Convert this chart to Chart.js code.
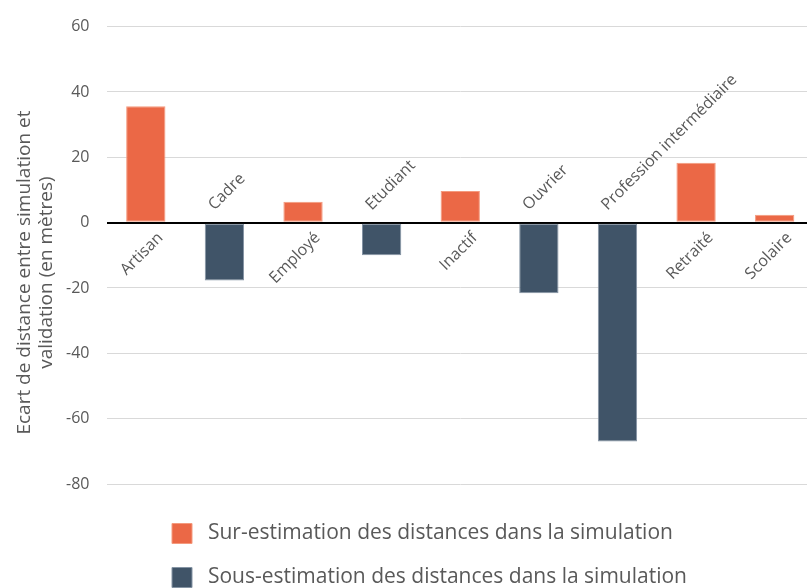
<!DOCTYPE html>
<html>
<head>
<meta charset="utf-8">
<script src="https://cdn.jsdelivr.net/npm/chart.js@4.4.1/dist/chart.umd.min.js"></script>
<style>
  html, body { margin: 0; padding: 0; background: #fff; overflow: hidden; }
  #wrap { width: 816px; height: 598px; }
</style>
</head>
<body>
<div id="wrap"><canvas id="chart"></canvas></div>
<script>
// categories
const categories = ["Artisan", "Cadre", "Employé", "Etudiant", "Inactif", "Ouvrier",
  "Profession intermédiaire", "Retraité", "Scolaire"];
// over-estimation (positive) and under-estimation (negative) in metres
const surEstimation = [35.6, null, 6.4, null, 9.7, null, null, 18.3, 2.4];
const sousEstimation = [null, -17.7, null, -10, null, -21.6, -67, null, null];
const seriesNames = ["Sur-estimation des distances dans la simulation",
  "Sous-estimation des distances dans la simulation"];
const yTitle = ["Ecart de distance entre simulation et", "validation (en mètres)"];

const textColor = "#595959";
const fontFamily = "'Open Sans', sans-serif";

// category labels drawn on the zero line, on the opposite side of the bar
const zeroLabels = {
  id: "zeroLabels",
  afterDatasetsDraw(chart) {
    const ctx = chart.ctx;
    const xs = chart.scales.x;
    const ys = chart.scales.y;
    const y0 = ys.getPixelForValue(0);
    ctx.save();
    ctx.fillStyle = textColor;
    ctx.font = "16px " + fontFamily;
    categories.forEach((label, i) => {
      const x = xs.getPixelForValue(i);
      const v = surEstimation[i] != null ? surEstimation[i] : sousEstimation[i];
      ctx.save();
      if (v >= 0) {
        ctx.translate(x + 9, y0 + 7);
        ctx.rotate(-Math.PI / 4);
        ctx.textAlign = "right";
        ctx.textBaseline = "top";
      } else {
        ctx.translate(x - 10, y0 - 12);
        ctx.rotate(-Math.PI / 4);
        ctx.textAlign = "left";
        ctx.textBaseline = "alphabetic";
      }
      ctx.fillText(label, 0, 0);
      ctx.restore();
    });
    ctx.restore();
  },
};

// legend rows are left aligned on a common edge, not centred
const legendLeft = {
  id: "legendLeft",
  afterLayout(chart) {
    chart.legend.left = 149;
  },
};

new Chart(document.getElementById("chart"), {
  type: "bar",
  data: {
    labels: categories,
    datasets: [
      {
        label: seriesNames[0],
        data: surEstimation,
        backgroundColor: "#EB6846",
        borderColor: "#F49A7E",
        borderWidth: 1,
        borderSkipped: false,
      },
      {
        label: seriesNames[1],
        data: sousEstimation,
        backgroundColor: "#405468",
        borderColor: "#8594A4",
        borderWidth: 1,
        borderSkipped: false,
      },
    ],
  },
  options: {
    responsive: true,
    maintainAspectRatio: false,
    animation: false,
    layout: { padding: { top: 17, left: 14, right: 2, bottom: 0 } },
    datasets: { bar: { barPercentage: 0.5, categoryPercentage: 1 } },
    scales: {
      x: {
        stacked: true,
        grid: { display: false },
        border: { display: false },
        ticks: { display: false },
        afterFit: (scale) => { scale.height = 16; },
      },
      y: {
        stacked: true,
        min: -80,
        max: 60,
        border: { display: false },
        afterFit: (scale) => { scale.width = 92.5; },
        grid: {
          drawTicks: false,
          color: (c) => (c.tick && c.tick.value === 0 ? "#000" : "#d9d9d9"),
          lineWidth: (c) => (c.tick && c.tick.value === 0 ? 2 : 1),
        },
        ticks: {
          stepSize: 20,
          padding: 17,
          color: textColor,
          font: { size: 16, family: fontFamily },
        },
        title: {
          display: true,
          // trailing spaces push the rotated title a bit lower, as in the original
          text: yTitle.map((t) => t + "       "),
          color: textColor,
          font: { size: 19, family: fontFamily, lineHeight: 1.16 },
          padding: { top: 0, bottom: 5 },
        },
      },
    },
    plugins: {
      tooltip: { enabled: false },
      legend: {
        position: "bottom",
        align: "start",
        labels: {
          color: textColor,
          font: { size: 21, family: fontFamily },
          boxWidth: 20,
          boxHeight: 20,
          padding: 23,
          generateLabels: (chart) =>
            Chart.defaults.plugins.legend.labels.generateLabels(chart).map((item) => {
              item.text = " " + item.text; // wider gap between swatch and text
              return item;
            }),
        },
      },
    },
  },
  plugins: [zeroLabels, legendLeft],
});
</script>
</body>
</html>
